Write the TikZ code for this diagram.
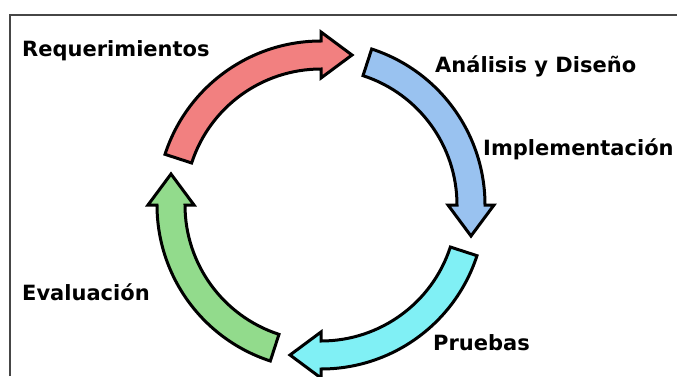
\documentclass[tikz,border=0pt]{standalone}
\usepackage{fontspec}
\setmainfont{DejaVu Sans}
\usetikzlibrary{calc}
\definecolor{cred}{RGB}{242,128,128}
\definecolor{cblue}{RGB}{153,194,240}
\definecolor{ccyan}{RGB}{128,240,245}
\definecolor{cgreen}{RGB}{146,219,140}
\definecolor{frame}{RGB}{70,70,70}
\newcommand{\cyclearrow}[2]{%
  \draw[ringarrow, fill=#2]
    ($(C)+(#1+72:164)$) arc[start angle=#1+72, end angle=#1, radius=164pt]
    -- ($(C)+(#1:173)$)
    -- ($(C)+(#1:150)+(#1-90:31)$)
    -- ($(C)+(#1:127)$)
    -- ($(C)+(#1:136)$) arc[start angle=#1, end angle=#1+72, radius=136pt]
    -- cycle;}
\begin{document}
\begin{tikzpicture}[x=1pt,y=1pt,
  ringarrow/.style={draw=black, line width=3pt, line join=miter},
  lbl/.style={anchor=base west, inner sep=0pt, font=\fontsize{21}{25}\selectfont\bfseries, text=black}]
\useasboundingbox (0,0) rectangle (677,376);
\fill[white] (0,0) rectangle (677,376);
\draw[frame, line width=2pt] (10,0) -- (10,361) -- (680,361);
\coordinate (C) at (321,171);
\cyclearrow{90}{cred}
\cyclearrow{0}{cblue}
\cyclearrow{-90}{ccyan}
\cyclearrow{180}{cgreen}
\node[lbl] (req) at (22,320) {Requerimientos};
\node[lbl] (ana) at (435,304) {Análisis y Diseño};
\node[lbl] (imp) at (483,221) {Implementación};
\node[lbl] (eva) at (22,76) {Evaluación};
\node[lbl] (pru) at (433,26) {Pruebas};
\end{tikzpicture}
\end{document}
